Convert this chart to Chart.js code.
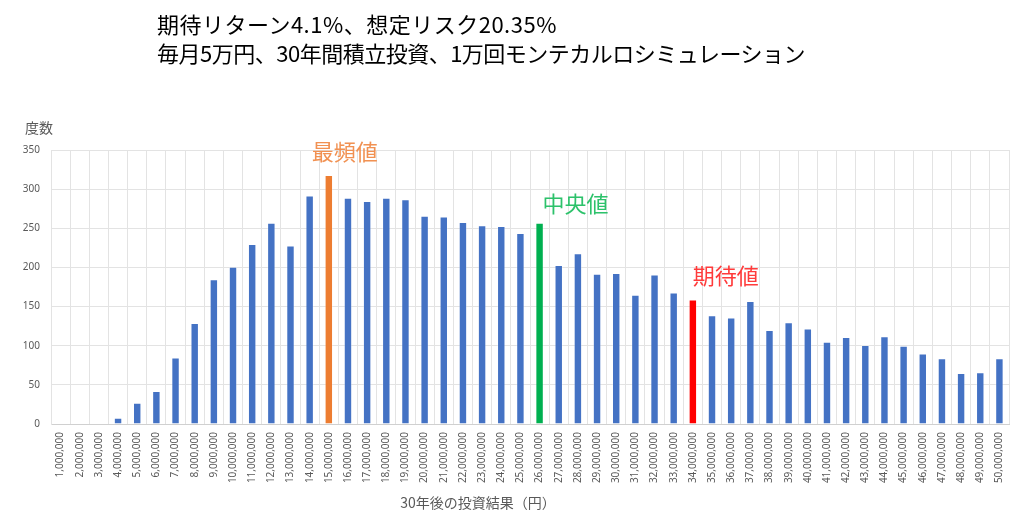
<!DOCTYPE html>
<html>
<head>
<meta charset="utf-8">
<script src="https://cdn.jsdelivr.net/npm/chart.js@4.4.0/dist/chart.umd.min.js"></script>
<style>
  html, body { margin: 0; padding: 0; background: #fff; }
  #wrap { position: relative; width: 1024px; height: 524px; }
  #title {
    position: absolute; left: 157px; top: 9px;
    font-family: "Noto Sans CJK JP", sans-serif;
    font-size: 22px; line-height: 29px; color: #000;
    white-space: nowrap;
  }
  #title span { display: block; }
  #title .l1 { letter-spacing: 0.5px; }
  #title .l2 { letter-spacing: -0.5px; }
</style>
</head>
<body>
<div id="wrap">
  <canvas id="chart"></canvas>
  <div id="title"><span class="l1"></span><span class="l2"></span></div>
</div>
<script>
const TITLE_LINES = [
  '期待リターン4.1%、想定リスク20.35%',
  '毎月5万円、30年間積立投資、1万回モンテカルロシミュレーション'
];
const Y_TITLE = '度数';
const X_TITLE = '30年後の投資結果（円）';

// 1,000,000 .. 50,000,000 yen buckets
const buckets = [
  '1,000,000', '2,000,000', '3,000,000', '4,000,000', '5,000,000',
  '6,000,000', '7,000,000', '8,000,000', '9,000,000', '10,000,000',
  '11,000,000', '12,000,000', '13,000,000', '14,000,000', '15,000,000',
  '16,000,000', '17,000,000', '18,000,000', '19,000,000', '20,000,000',
  '21,000,000', '22,000,000', '23,000,000', '24,000,000', '25,000,000',
  '26,000,000', '27,000,000', '28,000,000', '29,000,000', '30,000,000',
  '31,000,000', '32,000,000', '33,000,000', '34,000,000', '35,000,000',
  '36,000,000', '37,000,000', '38,000,000', '39,000,000', '40,000,000',
  '41,000,000', '42,000,000', '43,000,000', '44,000,000', '45,000,000',
  '46,000,000', '47,000,000', '48,000,000', '49,000,000', '50,000,000'
];

const counts = [
  0, 0, 0, 8, 27, 42, 85, 129, 185, 201,
  230, 257, 228, 292, 318, 289, 285, 289, 287, 266,
  265, 258, 254, 253, 244, 257, 203, 218, 192, 193,
  165, 191, 168, 159, 139, 136, 157, 120, 130, 122,
  105, 111, 101, 112, 100, 90, 84, 65, 66, 84
];

const y_ticks = [0, 50, 100, 150, 200, 250, 300, 350];

// highlighted buckets: mode, median, mean
const marks = [
  { label: '15,000,000', text: '最頻値', bar: '#ED7D31', font: '#F19152', dx: -17, dy: 12 },
  { label: '26,000,000', text: '中央値', bar: '#00B050', font: '#2DC26B', dx: 3, dy: 8 },
  { label: '34,000,000', text: '期待値', bar: '#FF0000', font: '#FF3B3B', dx: 0, dy: 13 }
];

const BLUE = '#4472C4';
const GREY_TEXT = '#595959';
const GRID = '#e3e3e3';
const CJK = '"Noto Sans CJK JP", "Noto Sans", sans-serif';

document.querySelector('#title .l1').textContent = TITLE_LINES[0];
document.querySelector('#title .l2').textContent = TITLE_LINES[1];

let bar_colors = buckets.map(b => {
  let m = marks.find(mk => mk.label === b);
  return m ? m.bar : BLUE;
});

const text_plugin = {
  id: 'texts',
  afterDraw(chart) {
    const ctx = chart.ctx;
    const area = chart.chartArea;
    const xs = chart.scales.x;
    const ys = chart.scales.y;
    ctx.save();

    // y axis title, horizontal above the axis
    ctx.fillStyle = GREY_TEXT;
    ctx.font = '14px ' + CJK;
    ctx.textAlign = 'left';
    ctx.textBaseline = 'middle';
    ctx.fillText(Y_TITLE, 25, area.top - 22);

    // x axis title
    ctx.textAlign = 'center';
    ctx.fillText(X_TITLE, 478, 503);

    // labels over the highlighted bars
    ctx.font = '22px ' + CJK;
    ctx.textAlign = 'left';
    ctx.textBaseline = 'bottom';
    marks.forEach(m => {
      let i = buckets.indexOf(m.label);
      let x = xs.getPixelForValue(i);
      let y = ys.getPixelForValue(counts[i]);
      ctx.fillStyle = m.font;
      ctx.fillText(m.text, x + m.dx, y - m.dy);
    });
    ctx.restore();
  }
};

new Chart(document.getElementById('chart'), {
  type: 'bar',
  data: {
    labels: buckets,
    datasets: [{
      data: counts,
      backgroundColor: bar_colors,
      borderColor: 'rgba(255,255,255,0.3)',
      borderWidth: 1,
      categoryPercentage: 1.0,
      barPercentage: 0.44
    }]
  },
  options: {
    responsive: true,
    maintainAspectRatio: false,
    animation: false,
    devicePixelRatio: 1,
    layout: { padding: { left: 0, top: 150, right: 15, bottom: 0 } },
    plugins: {
      legend: { display: false },
      title: { display: false },
      tooltip: { enabled: false }
    },
    scales: {
      x: {
        offset: true,
        grid: { color: GRID, offset: true, drawTicks: false },
        border: { color: '#d0d0d0' },
        ticks: {
          color: GREY_TEXT,
          font: { family: '"Noto Sans", sans-serif', size: 10 },
          minRotation: 90,
          maxRotation: 90,
          autoSkip: false,
          padding: 8
        },
        afterFit: s => { s.height = 100; }
      },
      y: {
        min: 0,
        max: 350,
        afterBuildTicks: s => { s.ticks = y_ticks.map(v => ({ value: v })); },
        grid: { color: GRID, drawTicks: false },
        border: { color: GRID },
        ticks: {
          color: GREY_TEXT,
          font: { family: '"Noto Sans", sans-serif', size: 10 },
          padding: 11
        },
        afterFit: s => { s.width = 51; }
      }
    }
  },
  plugins: [text_plugin]
});
</script>
</body>
</html>
